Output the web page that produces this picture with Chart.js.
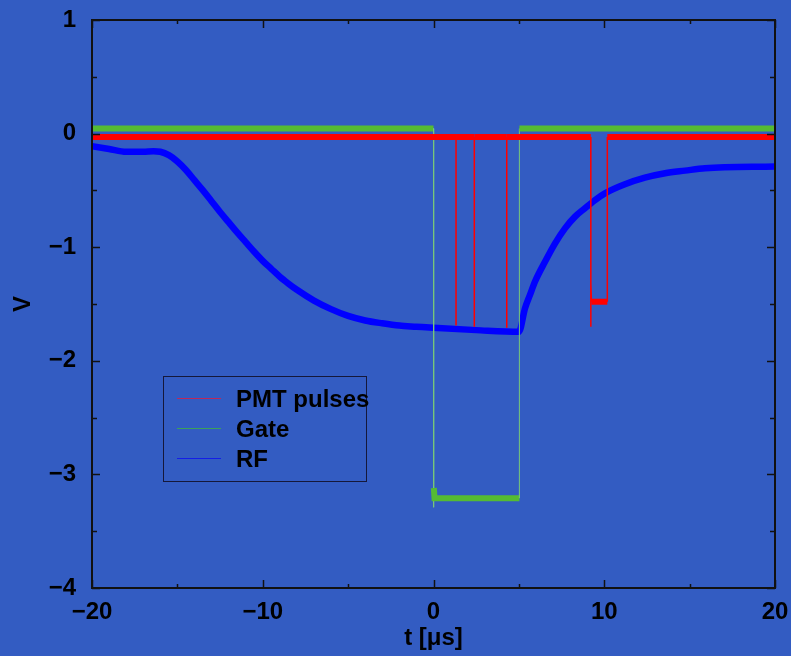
<!DOCTYPE html>
<html>
<head>
<meta charset="utf-8">
<script src="https://cdn.jsdelivr.net/npm/chart.js@4/dist/chart.umd.min.js"></script>
<style>
  html, body { margin: 0; padding: 0; background: rgb(51, 92, 194); }
  #wrap { width: 791px; height: 656px; }
</style>
</head>
<body>
<div id="wrap"><canvas id="scope" width="791" height="656" style="width:791px;height:656px"></canvas></div>
<script>
// Series names
const seriesNames = ['PMT pulses', 'Gate', 'RF'];

// PMT pulses: time [µs] and voltage [V]
const pmtTime = [-20, 1.32, 1.32, 1.32, 2.39, 2.39, 2.39, 4.29, 4.29, 4.29, 9.21, 9.21, 9.22, 9.25, 10.18, 10.18, 20];
const pmtVolt = [-0.03, -0.03, -1.69, -0.03, -0.03, -1.70, -0.03, -0.03, -1.71, -0.03, -0.03, -1.70, -1.32, -1.48, -1.48, -0.03, -0.03];

// Gate signal
const gateTime = [-20, 0, 0, 0.02, 0.06, 5.03, 5.03, 20];
const gateVolt = [0.045, 0.045, -3.29, -3.12, -3.21, -3.21, 0.045, 0.045];

// RF envelope
const rfTime = [-20, -19, -18, -17, -16.4, -16, -15.5, -15, -14.5, -14, -13.5, -13, -12.5, -12, -11.5, -11, -10.5, -10, -9.5, -9, -8.5, -8, -7, -6, -5, -4, -3, -2, -1, 0, 2.5, 5.0,
                5.36, 5.65, 5.94, 6.53, 7.12, 7.70, 8.29, 8.87, 9.46, 10.04, 11.21, 12.38, 13.56, 14.73, 15.9, 20];
const rfVolt = [-0.11, -0.135, -0.16, -0.16, -0.155, -0.16, -0.19, -0.245, -0.32, -0.41, -0.50, -0.595, -0.69, -0.78, -0.87, -0.955, -1.04, -1.12, -1.19, -1.26, -1.32, -1.375, -1.47, -1.545, -1.605, -1.645, -1.67, -1.69, -1.70, -1.71, -1.73, -1.745,
                -1.537, -1.42, -1.304, -1.128, -0.966, -0.834, -0.731, -0.657, -0.585, -0.526, -0.446, -0.388, -0.349, -0.326, -0.305, -0.29];

// Axis ticks
const xMajorTicks = [-20, -10, 0, 10, 20];
const xMinorTicks = [-15, -5, 5, 15];
const yMajorTicks = [-4, -3, -2, -1, 0, 1];
const yMinorTicks = [-3.5, -2.5, -1.5, -0.5, 0.5];

const FONT = '"Liberation Sans", Arial, Helvetica, sans-serif';
const seriesColors = ['#ff0000', '#55bb33', '#0000ff'];
const legendLineColors = ['rgb(190,40,90)', 'rgb(60,160,90)', 'rgb(20,30,230)'];

const toPoints = (xs, ys) => xs.map((x, i) => ({ x: x, y: ys[i] }));
const minus = v => (v < 0 ? '\u2212' + Math.abs(v) : String(v));

// flat noisy traces are drawn as wide bands, jumps as thin strokes
const jump = ctx => Math.abs(ctx.p1.parsed.y - ctx.p0.parsed.y) > 0.1;

const frameAndTicks = {
  id: 'frameAndTicks',
  afterDatasetsDraw(chart) {
    const { ctx, chartArea: a, scales: { x, y } } = chart;
    ctx.save();
    ctx.strokeStyle = '#111';
    ctx.lineWidth = 1.5;
    const xt = (v, len) => {
      const px = Math.round(x.getPixelForValue(v)) + 0.5;
      ctx.beginPath();
      ctx.moveTo(px, a.bottom); ctx.lineTo(px, a.bottom - len);
      ctx.moveTo(px, a.top); ctx.lineTo(px, a.top + len);
      ctx.stroke();
    };
    const yt = (v, len) => {
      const py = Math.round(y.getPixelForValue(v)) + 0.5;
      ctx.beginPath();
      ctx.moveTo(a.left, py); ctx.lineTo(a.left + len, py);
      ctx.moveTo(a.right, py); ctx.lineTo(a.right - len, py);
      ctx.stroke();
    };
    xMajorTicks.forEach(v => xt(v, 8));
    xMinorTicks.forEach(v => xt(v, 4));
    yMajorTicks.forEach(v => yt(v, 8));
    yMinorTicks.forEach(v => yt(v, 5));
    ctx.lineWidth = 2;
    ctx.strokeRect(a.left, a.top, a.right - a.left, a.bottom - a.top);
    ctx.restore();
  }
};

const boxLegend = {
  id: 'boxLegend',
  afterDraw(chart) {
    const ctx = chart.ctx;
    ctx.save();
    ctx.strokeStyle = '#15183a';
    ctx.lineWidth = 1;
    ctx.strokeRect(163.5, 376.5, 203, 105);
    const rows = [407, 437, 467];
    ctx.font = 'bold 24px ' + FONT;
    ctx.textBaseline = 'alphabetic';
    ctx.textAlign = 'left';
    seriesNames.forEach((name, i) => {
      const yLine = rows[i] - 8.5;
      ctx.strokeStyle = legendLineColors[i];
      ctx.lineWidth = 1.2;
      ctx.beginPath();
      ctx.moveTo(177, yLine); ctx.lineTo(221, yLine);
      ctx.stroke();
      ctx.fillStyle = '#000';
      ctx.fillText(name, 236, rows[i]);
    });
    ctx.restore();
  }
};

new Chart(document.getElementById('scope'), {
  type: 'line',
  data: {
    datasets: [
      {
        label: seriesNames[0],
        data: toPoints(pmtTime, pmtVolt),
        borderColor: seriesColors[0],
        borderWidth: 6,
        pointRadius: 0,
        order: 0,
        segment: { borderWidth: ctx => (jump(ctx) ? 1.5 : 6) }
      },
      {
        label: seriesNames[1],
        data: toPoints(gateTime, gateVolt),
        borderColor: seriesColors[1],
        borderWidth: 6,
        pointRadius: 0,
        order: 1,
        segment: {
          borderWidth: ctx => (jump(ctx) ? 1 : 6),
          borderColor: ctx => (jump(ctx) ? 'rgb(120,200,120)' : seriesColors[1])
        }
      },
      {
        label: seriesNames[2],
        data: toPoints(rfTime, rfVolt),
        borderColor: seriesColors[2],
        borderWidth: 6.5,
        pointRadius: 0,
        order: 2,
        cubicInterpolationMode: 'monotone'
      }
    ]
  },
  options: {
    responsive: false,
    devicePixelRatio: 1,
    animation: false,
    layout: { padding: { top: 20, right: 16, bottom: 0, left: 0 } },
    plugins: { legend: { display: false }, tooltip: { enabled: false } },
    scales: {
      x: {
        type: 'linear',
        min: -20, max: 20,
        grid: { display: false, drawTicks: false },
        border: { display: false },
        afterBuildTicks: s => { s.ticks = xMajorTicks.map(v => ({ value: v })); },
        afterFit: s => { s.height = 68; s.paddingLeft = 0; s.paddingRight = 0; },
        ticks: {
          maxRotation: 0,
          padding: 10,
          color: '#000',
          font: { family: FONT, size: 24, weight: 'bold' },
          callback: v => minus(v)
        },
        title: {
          display: true,
          text: 't [\u03bcs]',
          color: '#000',
          font: { family: FONT, size: 24, weight: 'bold' },
          padding: { top: 0, bottom: 3 }
        }
      },
      y: {
        type: 'linear',
        min: -4, max: 1,
        grid: { display: false, drawTicks: false },
        border: { display: false },
        afterBuildTicks: s => { s.ticks = yMajorTicks.map(v => ({ value: v })); },
        afterFit: s => { s.width = 92; s.paddingTop = 0; s.paddingBottom = 0; },
        ticks: {
          padding: 16,
          color: '#000',
          font: { family: FONT, size: 24, weight: 'bold' },
          callback: v => minus(v)
        },
        title: {
          display: true,
          text: 'V',
          color: '#000',
          font: { family: FONT, size: 24, weight: 'bold' },
          padding: { top: 9, bottom: 0 }
        }
      }
    }
  },
  plugins: [frameAndTicks, boxLegend]
});
</script>
</body>
</html>
